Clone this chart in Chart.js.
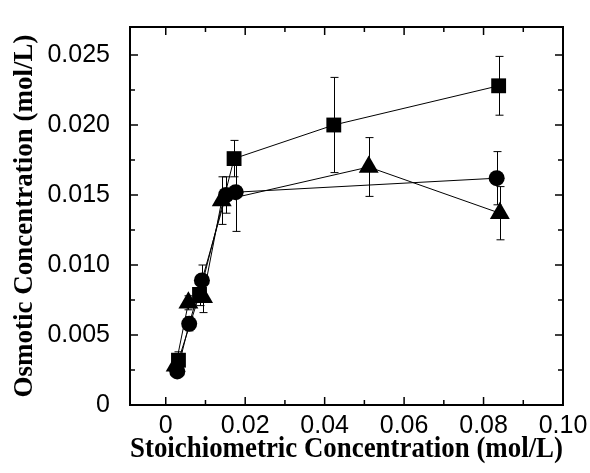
<!DOCTYPE html>
<html>
<head>
<meta charset="utf-8">
<script src="https://cdn.jsdelivr.net/npm/chart.js@4/dist/chart.umd.min.js"></script>
<style>
  html, body { margin: 0; padding: 0; background: #fff; }
  #wrap { width: 590px; height: 473px; }
</style>
</head>
<body>
<div id="wrap"><canvas id="myChart"></canvas></div>
<script>
// squares
var sqX = [0.0032, 0.0085, 0.0172, 0.0423, 0.0838];
var sqY = [0.0032, 0.0079, 0.0176, 0.0200, 0.0228];
var sqErr = [0.0006, 0.0008, 0.0013, 0.0034, 0.0021];
// circles
var ciX = [0.0029, 0.0059, 0.0091, 0.0152, 0.0176, 0.0833];
var ciY = [0.0024, 0.0058, 0.0089, 0.0150, 0.0152, 0.0162];
var ciErr = [0.0003, 0.0005, 0.0011, 0.0013, 0.0028, 0.0019];
// triangles
var trX = [0.0025, 0.0057, 0.0094, 0.0141, 0.0511, 0.0841];
var trY = [0.0028, 0.0073, 0.0077, 0.0146, 0.0170, 0.0137];
var trErr = [0.0003, 0.0005, 0.0011, 0.0017, 0.0021, 0.0019];

var xTicks = [0, 0.02, 0.04, 0.06, 0.08, 0.10];
var yTicks = [0, 0.005, 0.010, 0.015, 0.020, 0.025];

function pts(xs, ys, es) {
  return xs.map(function (x, i) { return { x: x, y: ys[i], e: es[i] }; });
}

var errorBars = {
  id: 'errorBars',
  afterDatasetsDraw: function (chart) {
    var ctx = chart.ctx;
    var xs = chart.scales.x, ys = chart.scales.y;
    ctx.save();
    ctx.strokeStyle = '#000';
    ctx.lineWidth = 1;
    chart.data.datasets.forEach(function (ds) {
      ds.data.forEach(function (p) {
        var px = Math.round(xs.getPixelForValue(p.x)) + 0.5;
        var top = ys.getPixelForValue(p.y + p.e);
        var bot = ys.getPixelForValue(p.y - p.e);
        ctx.beginPath();
        ctx.moveTo(px, top); ctx.lineTo(px, bot);
        ctx.moveTo(px - 4, top); ctx.lineTo(px + 4, top);
        ctx.moveTo(px - 4, bot); ctx.lineTo(px + 4, bot);
        ctx.stroke();
      });
    });
    ctx.restore();
  }
};

var frame = {
  id: 'frame',
  afterDraw: function (chart) {
    var ctx = chart.ctx, a = chart.chartArea;
    var xs = chart.scales.x, ys = chart.scales.y;
    ctx.save();
    ctx.strokeStyle = '#000';
    ctx.lineWidth = 2;
    ctx.strokeRect(a.left, a.top, a.right - a.left, a.bottom - a.top);
    ctx.lineWidth = 1.5;
    ctx.beginPath();
    for (var v = 0; v <= 0.1001; v += 0.01) {
      var px = xs.getPixelForValue(v);
      var len = (Math.round(v * 100) % 2 === 0) ? 8 : 5;
      ctx.moveTo(px, a.bottom); ctx.lineTo(px, a.bottom - len);
      ctx.moveTo(px, a.top); ctx.lineTo(px, a.top + len);
    }
    for (var w = 0; w <= 0.0271; w += 0.0025) {
      var py = ys.getPixelForValue(w);
      var l2 = (Math.round(w * 10000) % 50 === 0) ? 8 : 5;
      ctx.moveTo(a.left, py); ctx.lineTo(a.left + l2, py);
      ctx.moveTo(a.right, py); ctx.lineTo(a.right - l2, py);
    }
    ctx.stroke();
    ctx.restore();
  }
};

function series(label, data, style, r) {
  return {
    label: label,
    data: data,
    showLine: true,
    borderColor: '#000',
    borderWidth: 1,
    backgroundColor: '#000',
    pointStyle: style,
    pointRadius: r,
    pointHoverRadius: r,
    pointBorderWidth: 0,
    pointBackgroundColor: '#000'
  };
}

var ctx = document.getElementById('myChart').getContext('2d');
var myChart = new Chart(ctx, {
  type: 'scatter',
  data: {
    datasets: [
      series('square', pts(sqX, sqY, sqErr), 'rect', 10.5),
      series('circle', pts(ciX, ciY, ciErr), 'circle', 8),
      series('triangle', pts(trX, trY, trErr), 'triangle', 11.5)
    ]
  },
  plugins: [errorBars, frame],
  options: {
    responsive: true,
    maintainAspectRatio: false,
    animation: false,
    layout: { padding: { left: 0, right: 27, top: 10, bottom: 0 } },
    plugins: { legend: { display: false }, tooltip: { enabled: false } },
    scales: {
      x: {
        type: 'linear',
        min: -0.009,
        max: 0.10,
        afterBuildTicks: function (s) { s.ticks = xTicks.map(function (v) { return { value: v }; }); },
        afterFit: function (s) { s.height = 68; },
        grid: { display: false },
        border: { display: false },
        ticks: {
          color: '#000',
          padding: -2,
          font: { family: 'Liberation Sans', size: 25 },
          callback: function (v) { return v === 0 ? '0' : v.toFixed(2); }
        },
        title: {
          display: true,
          text: 'Stoichiometric Concentration (mol/L)',
          color: '#000',
          padding: { top: 0, bottom: 6 },
          font: { family: 'Liberation Serif', size: 29, weight: 'bold' }
        }
      },
      y: {
        type: 'linear',
        min: 0,
        max: 0.027,
        afterBuildTicks: function (s) { s.ticks = yTicks.map(function (v) { return { value: v }; }); },
        afterFit: function (s) { s.width = 130; },
        grid: { display: false },
        border: { display: false },
        ticks: {
          color: '#000',
          padding: 12,
          font: { family: 'Liberation Sans', size: 25 },
          callback: function (v) { return v === 0 ? '0' : v.toFixed(3); }
        },
        title: {
          display: true,
          text: 'Osmotic Concentration (mol/L)',
          color: '#000',
          padding: { top: 9, bottom: 0 },
          font: { family: 'Liberation Serif', size: 27, weight: 'bold' }
        }
      }
    }
  }
});
</script>
</body>
</html>
